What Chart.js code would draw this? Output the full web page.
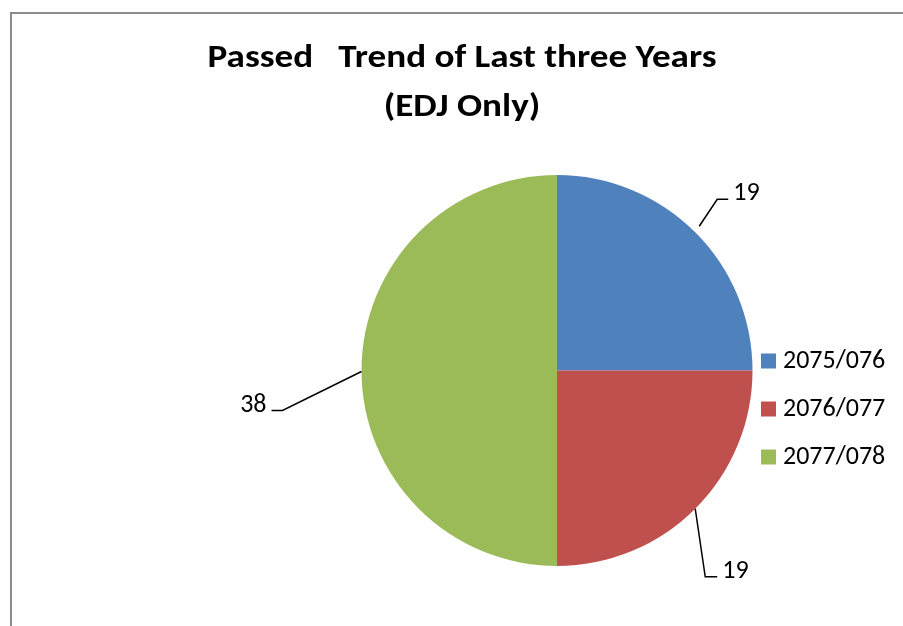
<!DOCTYPE html>
<html>
<head>
<meta charset="utf-8">
<script src="https://cdn.jsdelivr.net/npm/chart.js@4/dist/chart.umd.min.js"></script>
<style>
  html, body { margin: 0; padding: 0; background: #fff; overflow: hidden; }
  #frame { position: absolute; left: 10px; top: 12px; width: 1000px; height: 1000px; border: 2px solid #8c8c8c; }
  #wrap { position: absolute; left: 0; top: 0; width: 903px; height: 626px; }
</style>
</head>
<body>
<div id="frame"></div>
<div id="wrap"><canvas id="pie"></canvas></div>
<script>
const categories = ['2075/076', '2076/077', '2077/078'];
const passedCounts = [19, 19, 38];
const sliceColors = ['#4F81BD', '#C0504D', '#9BBB59'];
const titleLines = ['Passed   Trend of Last three Years', '(EDJ Only)'];

const fontFam = "Calibri, Carlito, 'Liberation Sans', Arial, sans-serif";

// title drawn by hand so it can sit off-centre from the pie
const titlePlugin = {
  id: 'titleText',
  afterDraw(chart, args, opts) {
    const ctx = chart.ctx;
    ctx.save();
    ctx.fillStyle = '#000';
    ctx.font = 'bold 32px ' + fontFam;
    ctx.textAlign = 'center';
    ctx.textBaseline = 'alphabetic';
    ctx.translate(opts.x, 0);
    ctx.scale(opts.stretch, 1);   // the original title is a bit wider than the font
    opts.lines.forEach((t, i) => ctx.fillText(t, 0, opts.y + i * opts.gap));
    ctx.restore();
  }
};

// data labels with elbow leader lines
const leaderPlugin = {
  id: 'leaders',
  afterDatasetsDraw(chart, args, opts) {
    const ctx = chart.ctx;
    const meta = chart.getDatasetMeta(0);
    const values = chart.data.datasets[0].data;
    ctx.save();
    ctx.strokeStyle = '#000';
    ctx.lineWidth = 1.5;
    ctx.fillStyle = '#000';
    ctx.font = '26px ' + fontFam;
    ctx.textBaseline = 'alphabetic';
    meta.data.forEach((arc, i) => {
      const p = arc.getProps(['x', 'y', 'startAngle', 'endAngle', 'outerRadius'], true);
      const mid = (p.startAngle + p.endAngle) / 2;
      const ex = p.x + Math.cos(mid) * p.outerRadius;
      const ey = p.y + Math.sin(mid) * p.outerRadius;
      const o = opts.offsets[i];
      ctx.beginPath();
      ctx.moveTo(ex + o.start[0], ey + o.start[1]);
      ctx.lineTo(ex + o.elbow[0], ey + o.elbow[1]);
      ctx.lineTo(ex + o.end[0], ey + o.end[1]);
      ctx.stroke();
      ctx.textAlign = o.side > 0 ? 'left' : 'right';
      ctx.fillText(String(values[i]), ex + o.end[0] + o.side * 5, ey + o.end[1] + 1);
    });
    ctx.restore();
  }
};

// legend at the right, drawn from the chart labels/colours
const sideLegend = {
  id: 'sideLegend',
  afterDraw(chart, args, opts) {
    const ctx = chart.ctx;
    const ds = chart.data.datasets[0];
    ctx.save();
    ctx.font = '26px ' + fontFam;
    ctx.textBaseline = 'middle';
    ctx.textAlign = 'left';
    chart.data.labels.forEach((lab, i) => {
      const y = opts.y + i * opts.gap;
      ctx.fillStyle = ds.backgroundColor[i];
      ctx.fillRect(opts.x, y - opts.box / 2, opts.box, opts.box);
      ctx.fillStyle = '#000';
      ctx.fillText(lab, opts.x + opts.box + 7, y);
    });
    ctx.restore();
  }
};

new Chart(document.getElementById('pie'), {
  type: 'pie',
  data: {
    labels: categories,
    datasets: [{
      data: passedCounts,
      backgroundColor: sliceColors,
      borderWidth: 0
    }]
  },
  options: {
    responsive: true,
    maintainAspectRatio: false,
    animation: false,
    layout: {
      padding: { left: 352, right: 141, top: 175, bottom: 60 }
    },
    plugins: {
      legend: { display: false },
      tooltip: { enabled: false },
      titleText: { lines: titleLines, x: 462, y: 67, gap: 49, stretch: 1.16 },
      leaders: {
        offsets: [
          { start: [4, -6], elbow: [22, -33], end: [33, -33], side: 1 },
          { start: [0, 0], elbow: [10, 68], end: [22, 68], side: 1 },
          { start: [0, 1], elbow: [-79, 40], end: [-90, 40], side: -1 }
        ]
      },
      sideLegend: { x: 761, y: 361, gap: 48, box: 15 }
    }
  },
  plugins: [titlePlugin, leaderPlugin, sideLegend]
});
</script>
</body>
</html>
